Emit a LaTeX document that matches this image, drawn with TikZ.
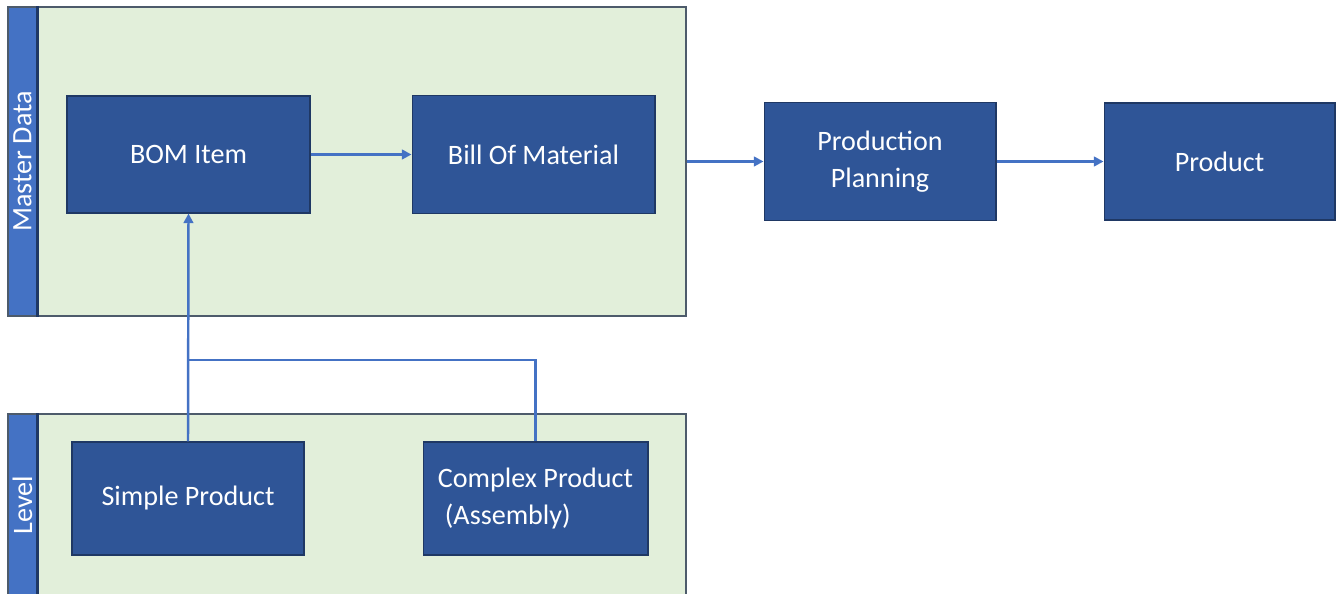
\documentclass[tikz,border=0pt]{standalone}
\usepackage{fontspec}
\setmainfont{Carlito}
\usetikzlibrary{arrows.meta}

\definecolor{boxblue}{HTML}{2F5597}
\definecolor{boxedge}{HTML}{1F3864}
\definecolor{lanegreen}{HTML}{E2EFDA}
\definecolor{laneedge}{HTML}{4D5B6B}
\definecolor{headblue}{HTML}{4472C4}

\begin{document}
\begin{tikzpicture}[x=0.02cm, y=-0.02cm,
    >={Triangle[length=5.5pt, width=5.5pt]},
    block/.style={draw=boxedge, line width=0.6pt, fill=boxblue, text=white,
        font=\fontsize{16}{21}\selectfont, align=center, inner sep=0pt},
    lane/.style={draw=laneedge, line width=0.7pt, fill=lanegreen, inner sep=0pt},
    lanehead/.style={draw=laneedge, line width=0.7pt, fill=headblue, text=white,
        minimum width=0.58cm, inner sep=0pt,
        font=\fontsize{16}{19}\selectfont},
    link/.style={->, draw=headblue, line width=1.4pt}]
            \path[use as bounding box] (0,0) rectangle (1337,594);
            \clip (0,0) rectangle (1337,594);

            % swimlanes
            \node[lane, minimum width=13.56cm, minimum height=6.18cm] (master) at (347,161.5) {};
            \node[lanehead, minimum height=6.18cm] (masterhead) at (22.5,161.5) {\rotatebox{90}{Master Data}};
            \draw[boxedge, line width=1.5pt] (masterhead.north east) -- (masterhead.south east);
            \node[lane, minimum width=13.56cm, minimum height=3.64cm] (level) at (347,505) {};
            \node[lanehead, minimum height=3.64cm] (levelhead) at (22.5,505) {\rotatebox{90}{Level}};
            \draw[boxedge, line width=1.5pt] (levelhead.north east) -- (levelhead.south east);

            % boxes
            \node[block, minimum width=4.86cm, minimum height=2.34cm] (bomitem) at (188.5,154.5) {BOM Item};
            \node[block, minimum width=4.86cm, minimum height=2.36cm] (bom) at (533.5,154.5) {Bill Of Material};
            \node[block, minimum width=4.64cm, minimum height=2.36cm] (planning) at (880,161.5) {Production\\Planning};
            \node[block, minimum width=4.62cm, minimum height=2.34cm] (product) at (1219.5,161.5) {Product};
            \node[block, minimum width=4.64cm, minimum height=2.26cm] (simple) at (188,498.5) {Simple Product};
            \node[block, minimum width=4.50cm, minimum height=2.26cm, align=left] (complex) at (535.5,498.5) {Complex Product\\\hspace{0.25em}(Assembly)};

            % links
            \coordinate (join) at (188,360);
            \draw[link] (bomitem) -- (bom);
            \draw[link] (master.east |- planning.west) -- (planning.west);
            \draw[link] (planning) -- (product);
            \draw[link] (simple.north) -- (bomitem.south);
            \draw[link, -] (complex.north) |- (join);
        \end{tikzpicture}
\end{document}
